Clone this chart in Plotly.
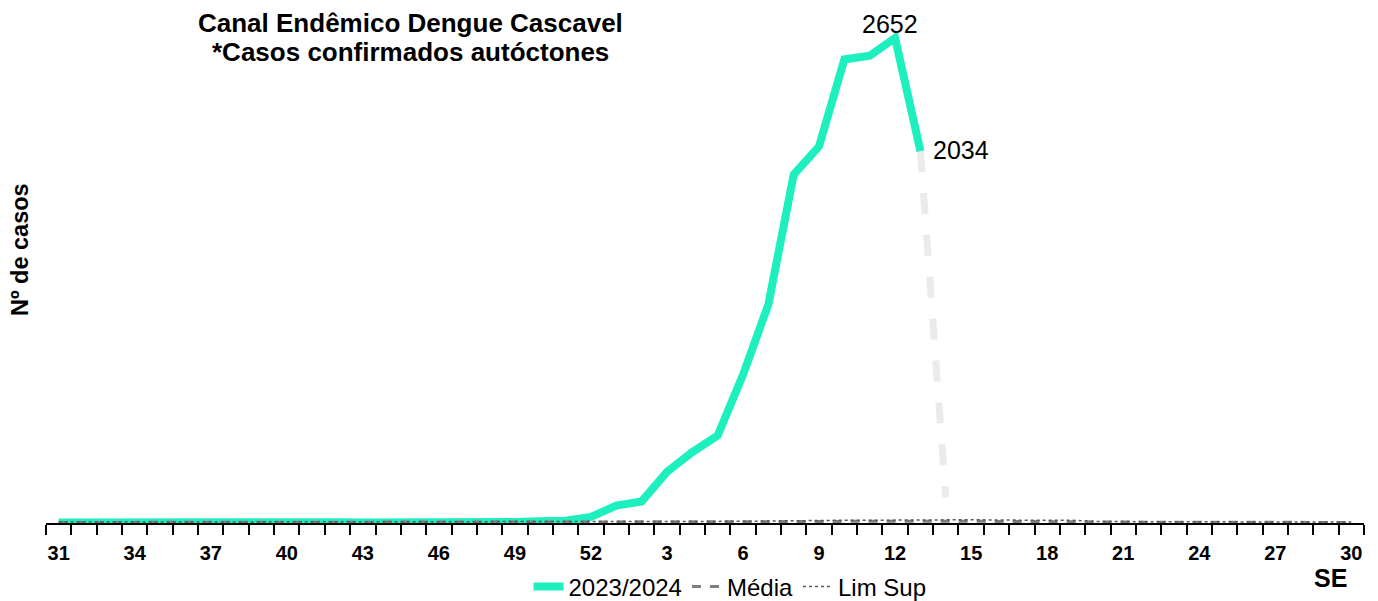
import plotly.graph_objects as go

weeks = list(range(31, 53)) + list(range(1, 31))
tick_weeks = [31, 34, 37, 40, 43, 46, 49, 52, 3, 6, 9, 12, 15, 18, 21, 24, 27, 30]

casos_2023_2024 = [3, 4, 3, 2, 3, 2, 4, 3, 3, 2, 3, 4, 3, 2, 3, 4, 3, 5, 6, 9, 12, 33,
                   95, 118, 280, 388, 478, 810, 1195, 1905, 2060, 2535, 2555, 2652, 2034]
parcial_weeks = [13, 14]
parcial_vals = [2034, 140]

media = [3, 3, 3, 3, 3, 3, 3, 3, 3, 3, 3, 3, 3, 3, 3, 3, 3, 3, 3, 3, 3, 3,
         4, 4, 4, 4, 5, 5, 7, 8, 9, 9, 10, 10, 10, 10, 10, 10, 10, 10, 9, 6, 5, 5, 5, 4, 4, 4, 4, 4, 4, 3]
lim_sup = [5, 5, 5, 5, 5, 5, 5, 5, 5, 5, 5, 5, 5, 5, 5, 5, 5, 5, 5, 5, 5, 5,
           6, 6, 6, 7, 8, 9, 11, 13, 14, 15, 15, 16, 16, 17, 18, 16, 16, 17, 15, 8, 7, 7, 7, 6, 6, 6, 6, 6, 6, 5]

title_lines = ["Canal Endêmico Dengue Cascavel", "*Casos confirmados autóctones"]

idx = {w: i for i, w in enumerate(weeks)}
x_all = list(range(len(weeks)))
x_case = x_all[:len(casos_2023_2024)]
x_parc = [idx[w] for w in parcial_weeks]

FONT = "Liberation Sans, Arial, sans-serif"
GREEN = "#1DEFBF"

# page adds an 8px body margin; work in screenshot pixels and convert
OFF = 8
W, H = 1378 - OFF, 601 - OFF
L, R, T, B = 46 - OFF, 1364 - OFF, 11 - OFF, 523 - OFF
PW, PH = R - L, B - T


def px(xs):
    return (xs - OFF - L) / PW


def py(ys):
    return (B - (ys - OFF)) / PH


fig = go.Figure()
fig.add_trace(go.Scatter(x=x_parc, y=parcial_vals, mode="lines", showlegend=False,
                         line=dict(color="#EBEBEB", width=7, dash="dash"), hoverinfo="skip"))
fig.add_trace(go.Scatter(x=x_case, y=casos_2023_2024, mode="lines", name="2023/2024",
                         line=dict(color=GREEN, width=8)))
fig.add_trace(go.Scatter(x=x_all, y=media, mode="lines", name="Média",
                         line=dict(color="#7F7F7F", width=3, dash="dash")))
fig.add_trace(go.Scatter(x=x_all, y=lim_sup, mode="lines", name="Lim Sup",
                         line=dict(color="#595959", width=1.5, dash="dot")))

peak_i = casos_2023_2024.index(max(casos_2023_2024))
last_i = len(casos_2023_2024) - 1

annotations = [
    dict(text="<b>" + title_lines[0] + "</b>", xref="paper", yref="paper",
         x=px(410), y=py(23), xanchor="center", yanchor="middle", showarrow=False,
         font=dict(size=26, color="black", family=FONT)),
    dict(text="<b>" + title_lines[1] + "</b>", xref="paper", yref="paper",
         x=px(410), y=py(52), xanchor="center", yanchor="middle", showarrow=False,
         font=dict(size=26, color="black", family=FONT)),
    dict(text="<b>Nº de casos</b>", xref="paper", yref="paper",
         x=px(20), y=py(250), xanchor="center", yanchor="middle",
         textangle=-90, showarrow=False, font=dict(size=23.5, color="black", family=FONT)),
    dict(text="<b>SE</b>", xref="paper", yref="paper",
         x=px(1330), y=py(578), xanchor="center", yanchor="middle",
         showarrow=False, font=dict(size=25, color="black", family=FONT)),
    dict(text=str(casos_2023_2024[peak_i]), x=x_case[peak_i], y=casos_2023_2024[peak_i],
         xref="x", yref="y", showarrow=False, xanchor="center", yanchor="middle",
         xshift=-5, yshift=14, font=dict(size=25, color="black", family=FONT)),
    dict(text=str(casos_2023_2024[last_i]), x=x_case[last_i], y=casos_2023_2024[last_i],
         xref="x", yref="y", showarrow=False, xanchor="left", yanchor="middle",
         xshift=11, yshift=1, font=dict(size=25, color="black", family=FONT)),
]

fig.update_layout(
    width=W, height=H,
    margin=dict(l=L, r=W - R, t=T, b=H - B, autoexpand=False),
    plot_bgcolor="white", paper_bgcolor="white",
    font=dict(family=FONT, color="black"),
    showlegend=True,
    legend=dict(orientation="h", x=px(730), xanchor="center", y=py(587),
                yanchor="middle", font=dict(size=24, color="black"), bgcolor="rgba(0,0,0,0)",
                tracegroupgap=0, itemwidth=30),
    xaxis=dict(range=[-0.5, len(weeks) - 0.5], showgrid=False, zeroline=False,
               showline=True, linecolor="black", linewidth=1.5,
               tickvals=[idx[w] for w in tick_weeks], ticktext=[str(w) for w in tick_weeks],
               ticks="", ticklabelstandoff=11,
               tickfont=dict(size=20, family=FONT, color="black", weight="bold"),
               minor=dict(tickvals=[i - 0.5 for i in range(len(weeks) + 1)], ticks="outside",
                          ticklen=10, tickcolor="black", tickwidth=1.5, showgrid=False)),
    yaxis=dict(range=[0, 2800], showgrid=False, zeroline=False, showline=False,
               showticklabels=False, ticks=""),
    annotations=annotations,
)

fig.write_html("out.html")
